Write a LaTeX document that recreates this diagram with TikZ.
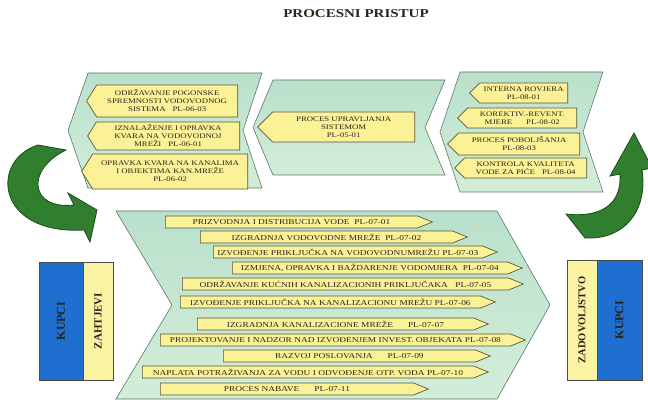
\documentclass[tikz,border=0pt]{standalone}
\usepackage{fontspec}
\setmainfont{Liberation Serif}
\newfontfamily\widefont{Liberation Serif}[FakeStretch=1.25]
\usepackage{tikz}
\usetikzlibrary{shapes.symbols}
\definecolor{panelfill}{HTML}{D3EED8}
\definecolor{panelfilltop}{HTML}{B9E0CC}
\definecolor{panelline}{HTML}{5F7468}
\definecolor{boxfill}{HTML}{FBF197}
\definecolor{boxline}{HTML}{5C5838}
\definecolor{kupciblue}{HTML}{1F6FD0}
\definecolor{zahtjevfill}{HTML}{FAF3A2}
\definecolor{arrowgreen}{HTML}{2F7F2F}
\definecolor{arrowline}{HTML}{1C4A1C}
\definecolor{textdark}{HTML}{2A2418}

\begin{document}
\begin{tikzpicture}[x=1pt, y=-1pt,
  panel/.style={draw=panelline, top color=panelfilltop, bottom color=panelfill, line width=0.6pt},
  pbox/.style={signal, signal to=west, draw=boxline, fill=boxfill, inner sep=0pt, align=center, font=\widefont\fontsize{7}{8}\selectfont, text=textdark, line width=0.7pt, anchor=east},
  row/.style={signal, signal to=east, signal pointer angle=44, draw=boxline, fill=boxfill, inner sep=0pt, minimum height=12pt, font=\widefont\fontsize{7.5}{8}\selectfont, text=textdark, line width=0.7pt, anchor=west},
  side/.style={draw=black!70, rotate=90, inner sep=0pt, text=textdark, line width=0.7pt},
  turn/.style={fill=arrowgreen, draw=arrowline, line width=0.8pt}
]
  \useasboundingbox (0,0) rectangle (648,403);
  \clip (0,0) rectangle (648,403);

  \node[font=\widefont\bfseries\fontsize{12}{14}\selectfont, text=textdark] (title) at (356,14) {PROCESNI PRISTUP};

  % upper panels
  \draw[panel] (88,73) -- (262,73) -- (243,130.5) -- (262,188) -- (88,188) -- (68,130.5) -- cycle;
  \draw[panel] (273,80) -- (445,80) -- (425,127.5) -- (445,175) -- (273,175) -- (253,127.5) -- cycle;
  \draw[panel] (460,72) -- (603,72) -- (583,132) -- (603,192) -- (460,192) -- (440,132) -- cycle;

  % lower panel
  \draw[panel] (116,211) -- (497,211) -- (550,305) -- (497,399) -- (116,399) -- (172,305) -- cycle;

  % left panel boxes
  \node[pbox, signal pointer angle=116, minimum width=151pt, minimum height=32pt] (pogon) at (238,101) {ODRŽAVANJE POGONSKE\\SPREMNOSTI VODOVODNOG\\SISTEMA\quad PL-06-03};
  \node[pbox, signal pointer angle=116, minimum width=152pt, minimum height=28pt] (kvar) at (240,136) {IZNALAŽENJE I OPRAVKA\\KVARA NA VODOVODNOJ\\MREŽI\quad PL-06-01};
  \node[pbox, signal pointer angle=116, minimum width=166pt, minimum height=35pt] (kanal) at (248,171.5) {OPRAVKA KVARA NA KANALIMA\\I OBJEKTIMA KAN.MREŽE\\PL-06-02};

  % middle panel box
  \node[pbox, signal pointer angle=90, minimum width=157pt, minimum height=30pt] (upravlj) at (415,127) {PROCES UPRAVLJANJA\\SISTEMOM\\PL-05-01};

  % right panel boxes
  \node[pbox, signal pointer angle=90, minimum width=98pt, minimum height=20pt] (revizija) at (568,93) {INTERNA ROVJERA\\PL-08-01};
  \node[pbox, signal pointer angle=90, minimum width=119pt, minimum height=20pt] (korektiv) at (577,118) {KOREKTIV.-REVENT.\\MJERE\qquad PL-08-02};
  \node[pbox, signal pointer angle=90, minimum width=132pt, minimum height=22pt] (poboljs) at (580,144) {PROCES POBOLJŠANJA\\PL-08-03};
  \node[pbox, signal pointer angle=90, minimum width=132pt, minimum height=20pt] (kvalitet) at (587,168) {KONTROLA KVALITETA\\VODE ZA PIĆE\quad PL-08-04};

  % lower panel rows
  \node[row, minimum width=267pt] (r01) at (165,222) {PRIZVODNJA I DISTRIBUCIJA VODE\ \ PL-07-01};
  \node[row, minimum width=267pt] (r02) at (200,237) {IZGRADNJA VODOVODNE MREŽE\ \ PL-07-02};
  \node[row, minimum width=284pt] (r03) at (213,252) {IZVOĐENJE PRIKLJUČKA NA VODOVODNUMREŽU PL-07-03};
  \node[row, minimum width=290pt] (r04) at (232,268) {IZMJENA, OPRAVKA I BAŽDARENJE VODOMJERA\ \ PL-07-04};
  \node[row, minimum width=341pt] (r05) at (182,284) {ODRŽAVANJE KUĆNIH KANALIZACIONIH PRIKLJUČAKA\quad PL-07-05};
  \node[row, minimum width=315pt] (r06) at (180,302) {IZVOĐENJE PRIKLJUČKA NA KANALIZACIONU MREŽU PL-07-06};
  \node[row, minimum width=291pt] (r07) at (197,324) {IZGRADNJA KANALIZACIONE MREŽE\qquad PL-07-07};
  \node[row, minimum width=365pt] (r08) at (160,340) {PROJEKTOVANJE I NADZOR NAD IZVOĐENJEM INVEST. OBJEKATA PL-07-08};
  \node[row, minimum width=267pt] (r09) at (223,356) {RAZVOJ POSLOVANJA\qquad PL-07-09};
  \node[row, minimum width=346pt] (r10) at (142,372) {NAPLATA POTRAŽIVANJA ZA VODU I ODVOĐENJE OTP. VODA PL-07-10};
  \node[row, minimum width=268pt] (r11) at (160,389) {PROCES NABAVE\qquad PL-07-11};

  % customers
  \node[side, fill=kupciblue, minimum width=118pt, minimum height=44pt, font=\bfseries\fontsize{12}{12}\selectfont] (kupciin) at (61,321) {KUPCI};
  \node[side, fill=zahtjevfill, minimum width=118pt, minimum height=30pt, font=\bfseries\fontsize{11}{11}\selectfont] (zahtjevi) at (98,321) {ZAHTJEVI};
  \node[side, fill=zahtjevfill, minimum width=120pt, minimum height=30pt, font=\bfseries\fontsize{10.5}{11}\selectfont] (zadovolj) at (582,320) {ZADOVOLJSTVO};
  \node[side, fill=kupciblue, minimum width=120pt, minimum height=45pt, font=\bfseries\fontsize{12}{12}\selectfont] (kupciout) at (619.5,320) {KUPCI};

  % turning arrows
  \draw[turn] (38,145) .. controls (-10,160) and (-5,235) .. (84,230) -- (90,242) -- (97,210) -- (68,193) -- (74,205) .. controls (30,210) and (25,170) .. (66,150) -- cycle;
  \draw[turn] (585,238) .. controls (625,240) and (648,210) .. (642,170) -- (652,168) -- (634,133) -- (610,176) -- (620,174) .. controls (622,205) and (600,218) .. (566,214) -- cycle;
\end{tikzpicture}
\end{document}
